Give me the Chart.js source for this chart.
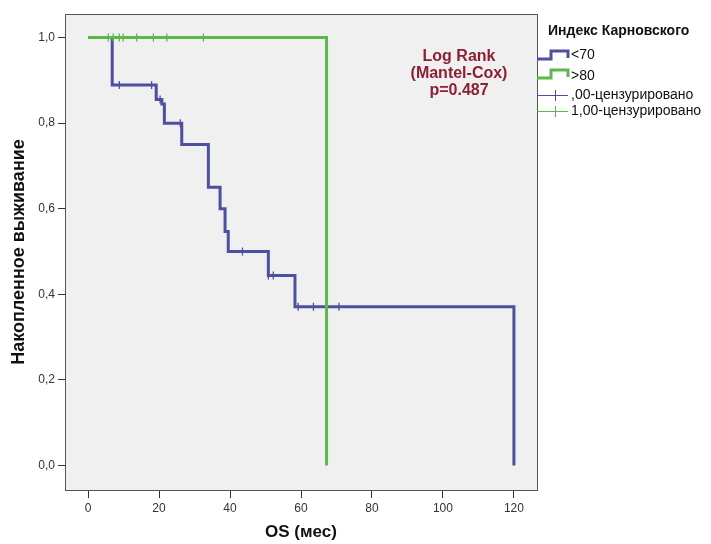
<!doctype html>
<html>

<head>
  <title>Kaplan-Meier</title>
  <script src="https://cdn.jsdelivr.net/npm/chart.js@4/dist/chart.umd.min.js"></script>
  <style>
    html, body { margin: 0; padding: 0; background: #fff; }
    #container { width: 711px; height: 544px; position: relative; }
  </style>
</head>

<body>
<div id="container">
  <canvas id="canvas"></canvas>
</div>
<script>
  // survival steps, group "<70"
  var blueTimes = [0, 6.8, 19.2, 20.8, 21.5, 26.4, 33.9, 37.2, 38.6, 39.5, 50.8, 58.3, 120];
  var blueSurv = [1, 0.889, 0.855, 0.845, 0.80, 0.75, 0.65, 0.60, 0.547, 0.50, 0.444, 0.371, 0];
  // censored, group "<70"
  var blueCensTimes = [8.8, 17.9, 20.3, 26.0, 43.5, 50.8, 52.2, 59.2, 63.5, 70.7];
  var blueCensSurv = [0.889, 0.889, 0.855, 0.80, 0.50, 0.444, 0.444, 0.371, 0.371, 0.371];
  // survival steps, group ">80"
  var greenTimes = [0, 67.2];
  var greenSurv = [1, 0];
  // censored, group ">80"
  var greenCensTimes = [5.7, 7.1, 8.8, 9.9, 13.7, 18.4, 22.2, 32.5];
  var greenCensSurv = [1, 1, 1, 1, 1, 1, 1, 1];

  var xTicks = [0, 20, 40, 60, 80, 100, 120];
  var yTicks = [0, 0.2, 0.4, 0.6, 0.8, 1.0];

  var legendTitle = 'Индекс Карновского';
  var legendLabels = ['<70', '>80', ',00-цензурировано', '1,00-цензурировано'];
  var statLines = ['Log Rank', '(Mantel-Cox)', 'p=0.487'];

  var BLUE = '#4f4f9f';
  var GREEN = '#5db84b';
  var FONT = '"Liberation Sans", Arial, sans-serif';

  function pts(xs, ys) {
    return xs.map(function (x, i) { return {x: x, y: ys[i]}; });
  }

  var frame = {
    id: 'frame',
    beforeDatasetsDraw: function (chart) {
      var a = chart.chartArea, ctx = chart.ctx;
      ctx.save();
      ctx.fillStyle = '#f0f0f0';
      ctx.fillRect(a.left, a.top, a.right - a.left, a.bottom - a.top);
      ctx.restore();
    },
    afterDraw: function (chart) {
      var a = chart.chartArea, ctx = chart.ctx;
      ctx.save();
      ctx.strokeStyle = '#555';
      ctx.lineWidth = 1;
      ctx.strokeRect(a.left + 0.5, a.top + 0.5, a.right - a.left, a.bottom - a.top);

      // log rank note
      ctx.fillStyle = '#8c1f33';
      ctx.font = 'bold 16px ' + FONT;
      ctx.textAlign = 'center';
      ctx.textBaseline = 'middle';
      statLines.forEach(function (t, i) { ctx.fillText(t, 459, 57 + i * 17); });

      // legend
      ctx.fillStyle = '#111';
      ctx.textAlign = 'left';
      ctx.font = 'bold 14px ' + FONT;
      ctx.fillText(legendTitle, 548, 31);
      ctx.font = '14px ' + FONT;
      var ys = [55, 76, 95, 111];
      legendLabels.forEach(function (t, i) { ctx.fillText(t, 571, ys[i]); });

      ctx.lineWidth = 3;
      [[BLUE, 59], [GREEN, 78]].forEach(function (s) {
        ctx.strokeStyle = s[0];
        ctx.beginPath();
        ctx.moveTo(537, s[1]);
        ctx.lineTo(551, s[1]);
        ctx.lineTo(551, s[1] - 8);
        ctx.lineTo(568, s[1] - 8);
        ctx.lineTo(568, s[1] - 1);
        ctx.stroke();
      });
      ctx.lineWidth = 1;
      [[BLUE, 95], [GREEN, 111]].forEach(function (s) {
        ctx.strokeStyle = s[0];
        ctx.beginPath();
        ctx.moveTo(537, s[1] + 0.5);
        ctx.lineTo(568, s[1] + 0.5);
        ctx.moveTo(555.5, s[1] - 5);
        ctx.lineTo(555.5, s[1] + 6);
        ctx.stroke();
      });
      ctx.restore();
    }
  };

  window.onload = function () {
    var ctx = document.getElementById('canvas').getContext('2d');
    window.myChart = new Chart(ctx, {
      type: 'line',
      data: {
        datasets: [{
          label: '>80',
          data: pts(greenTimes, greenSurv),
          borderColor: GREEN,
          borderWidth: 3,
          pointRadius: 0,
          stepped: 'before',
          fill: false,
          order: 1
        }, {
          label: '<70',
          data: pts(blueTimes, blueSurv),
          borderColor: BLUE,
          borderWidth: 3,
          pointRadius: 0,
          stepped: 'before',
          fill: false,
          order: 2
        }, {
          label: ',00-цензурировано',
          data: pts(blueCensTimes, blueCensSurv),
          showLine: false,
          pointStyle: 'line',
          rotation: 90,
          pointRadius: 4,
          borderColor: BLUE,
          borderWidth: 1.3,
          order: 0
        }, {
          label: '1,00-цензурировано',
          data: pts(greenCensTimes, greenCensSurv),
          showLine: false,
          pointStyle: 'line',
          rotation: 90,
          pointRadius: 4,
          borderColor: GREEN,
          borderWidth: 1.3,
          order: 0
        }]
      },
      options: {
        responsive: true,
        maintainAspectRatio: false,
        animation: false,
        layout: {
          padding: {left: 0, right: 174, top: 14, bottom: 0}
        },
        plugins: {
          legend: {display: false},
          tooltip: {enabled: false}
        },
        scales: {
          x: {
            type: 'linear',
            min: -6.5,
            max: 126.5,
            afterBuildTicks: function (scale) {
              scale.ticks = xTicks.map(function (v) { return {value: v}; });
            },
            afterFit: function (scale) { scale.height = 54; },
            grid: {drawOnChartArea: false, drawTicks: true, tickLength: 8, color: '#333'},
            border: {display: true, color: '#555'},
            ticks: {
              color: '#333',
              font: {family: FONT, size: 12},
              padding: 3,
              maxRotation: 0,
              callback: function (v) { return String(v); }
            },
            title: {
              display: true,
              text: 'OS (мес)',
              color: '#111',
              font: {family: FONT, size: 17, weight: 'bold'},
              padding: {top: 0, bottom: 1}
            }
          },
          y: {
            type: 'linear',
            min: -0.057,
            max: 1.055,
            afterBuildTicks: function (scale) {
              scale.ticks = yTicks.map(function (v) { return {value: v}; });
            },
            afterFit: function (scale) { scale.width = 65; },
            grid: {drawOnChartArea: false, drawTicks: true, tickLength: 7, color: '#333'},
            border: {display: true, color: '#555'},
            ticks: {
              color: '#333',
              font: {family: FONT, size: 12},
              padding: 3,
              callback: function (v) { return v.toFixed(1).replace('.', ','); }
            },
            title: {
              display: true,
              text: 'Накопленное выживание',
              color: '#111',
              font: {family: FONT, size: 18, weight: 'bold'},
              padding: {top: 8, bottom: 0}
            }
          }
        }
      },
      plugins: [frame]
    });
  };
</script>
</body>

</html>
